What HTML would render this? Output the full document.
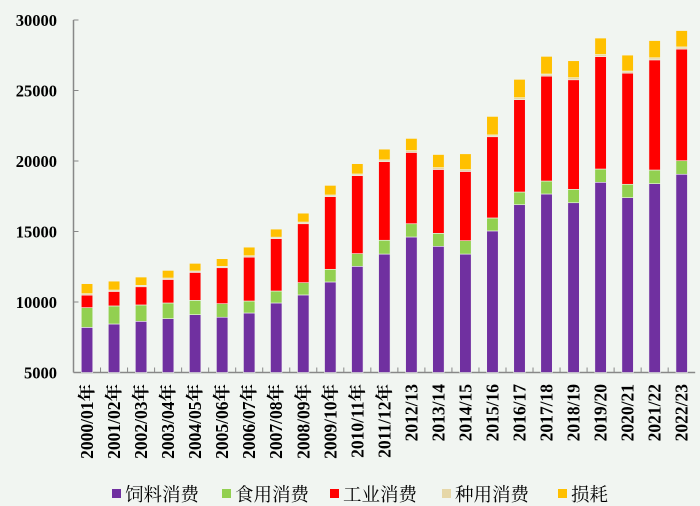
<!DOCTYPE html>
<html><head><meta charset="utf-8">
<style>
html,body{margin:0;padding:0;background:#f1f5f1;}
svg{display:block;}
.tk{font-family:"Liberation Serif","Noto Serif CJK SC",serif;font-weight:bold;font-size:16.5px;fill:#000;}
.xl{font-family:"Liberation Serif","Noto Serif CJK SC",serif;font-weight:bold;font-size:17.5px;fill:#000;}
.lg{font-family:"Liberation Serif","Noto Serif CJK SC",serif;font-size:18.5px;fill:#000;}
</style></head>
<body>
<svg id="chart" width="700" height="506"></svg>
<script>
const categories=["2000/01年","2001/02年","2002/03年","2003/04年","2004/05年","2005/06年","2006/07年","2007/08年","2008/09年","2009/10年","2010/11年","2011/12年","2012/13","2013/14","2014/15","2015/16","2016/17","2017/18","2018/19","2019/20","2020/21","2021/22","2022/23"];
const feed=[8200,8440,8630,8820,9100,8920,9220,9930,10500,11420,12530,13400,14610,13950,13400,15040,16900,17660,17040,18490,17400,18390,19060];
const food=[1400,1280,1160,1110,1020,960,850,850,870,900,900,980,940,920,950,920,900,920,950,940,950,970,960];
const industrial=[890,1030,1290,1670,1980,2550,3110,3710,4180,5150,5530,5570,5060,4530,4910,5760,6550,7440,7770,7970,7880,7810,7920];
const seed=[100,100,100,100,100,100,100,110,120,120,120,130,130,130,130,130,140,150,150,150,150,150,150];
const loss=[710,630,590,540,540,540,610,570,630,680,730,760,860,930,1120,1310,1300,1250,1200,1170,1130,1220,1160];
const seriesNames=["饲料消费","食用消费","工业消费","种用消费","损耗"];
const seriesColors=["#7030a0","#92d050","#ff0000","#e6d7a8","#ffc000"];
const yTicks=[5000,10000,15000,20000,25000,30000];

const NS="http://www.w3.org/2000/svg";
const svg=document.getElementById('chart');
const X0=73.5,X1=695.2,YMIN=5000,YMAX=30000,PY0=372.5,PY1=20;
const band=(X1-X0)/categories.length;
function yS(v){return PY0-(v-YMIN)/(YMAX-YMIN)*(PY0-PY1);}
function xS(i){return X0+band*(i+0.5);}
function mk(t,a){const e=document.createElementNS(NS,t);for(const k in a)e.setAttribute(k,a[k]);svg.appendChild(e);return e;}

const ya=mk('line',{x1:X0,y1:PY1,x2:X0,y2:PY0,stroke:'#888','stroke-width':1.5});


const xa=mk('line',{x1:X0,y1:PY0,x2:X1,y2:PY0,stroke:'#888','stroke-width':1.5});


yTicks.forEach(t=>{
  const y=yS(t);
  mk('line',{x1:X0,y1:y,x2:X0+5,y2:y,stroke:'#888','stroke-width':1});
  const tx=mk('text',{x:57,y:y+6,'text-anchor':'end',class:'tk'});
  tx.textContent=t;
  
  
});
for(let i=1;i<categories.length;i++){
  const x=X0+band*i;
  mk('line',{x1:x,y1:PY0,x2:x,y2:PY0-5,stroke:'#888','stroke-width':1});
}
const series=[feed,food,industrial,seed,loss];
categories.forEach((c,i)=>{
  let base=0;
  const bw=11.5;
  series.forEach((s,k)=>{
    const lo=base,hi=base+s[i];base=hi;
    const yl=yS(Math.max(lo,YMIN)),yh=yS(hi);
    const r=mk('rect',{x:xS(i)-bw/2,y:yh,width:bw,height:Math.max(0,yl-yh),fill:seriesColors[k],stroke:'#f1f5f1','stroke-width':0.6});
    
    
  });
  const t=mk('text',{transform:`translate(${xS(i)+6},384) rotate(-90)`,'text-anchor':'end',class:'xl'});
  t.textContent=c;
  
  
});
const lx=[112,222,330,442,558];
seriesNames.forEach((n,k)=>{
  const r=mk('rect',{x:lx[k],y:489,width:9,height:9,fill:seriesColors[k]});
  
  
  const t=mk('text',{x:lx[k]+13,y:501,class:'lg'});
  t.textContent=n;
  
  
});
</script>
</body></html>
